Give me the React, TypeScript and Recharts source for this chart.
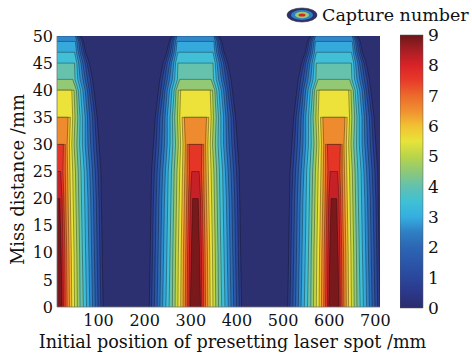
import React from 'react';
import { ComposedChart, Area, XAxis, YAxis, CartesianGrid, BarChart, Bar } from 'recharts';

// miss distance rows (mm) where contour half-widths were read
const HEIGHTS = [0, 10, 20, 25, 30, 35, 40, 42, 45, 47, 49, 50];
// centre of each capture peak along initial position (mm)
const PEAK_CENTERS = [10, 310, 610];
// contour levels of capture number
const LEVELS = [0.5, 1, 1.5, 2, 2.5, 3, 3.5, 4, 4.5, 5, 5.5, 6, 6.5, 7, 7.5, 8, 8.5];

// half-width (mm) of the region above each level, one list per height
const HW_0 = [100, 95, 89, 83, 77, 71, 64, 57, 50, 44, 38, 32, 27, 22, 18, 14, 11];
const HW_10 = [98, 93, 87, 81, 75, 69, 62, 55, 49, 43, 37, 31, 26, 21, 17, 13, 9];
const HW_20 = [96, 91, 85, 79, 73, 67, 60, 53, 47, 41, 35, 29, 24, 19, 15, 11, 6];
const HW_25 = [95, 89, 83, 77, 71, 65, 59, 52, 46, 40, 34, 28, 23, 18, 13, 8];
const HW_30 = [91, 85, 79, 73, 67, 61, 55, 49, 43, 37, 32, 27, 22, 18, 14];
const HW_35 = [87, 82, 77, 71, 66, 61, 55, 50, 45, 39, 34, 29, 24];
const HW_40 = [80, 75, 70, 66, 61, 56, 51, 46, 42, 37, 32];
const HW_42 = [77, 72, 66, 61, 56, 50, 45, 39, 34];
const HW_45 = [70, 65, 61, 56, 52, 47, 43, 38];
const HW_47 = [62, 58, 54, 50, 46, 42, 38];
const HW_49 = [57, 54, 50, 47, 43, 40];
const HW_50 = [52, 49, 46, 43, 40];

const HALF_WIDTHS = [HW_0, HW_10, HW_20, HW_25, HW_30, HW_35, HW_40, HW_42, HW_45, HW_47, HW_49, HW_50];

const X_TICKS = [100, 200, 300, 400, 500, 600, 700];
const Y_TICKS = [0, 5, 10, 15, 20, 25, 30, 35, 40, 45, 50];
const CBAR_TICKS = [0, 1, 2, 3, 4, 5, 6, 7, 8, 9];

const BACKGROUND = '#2c3070';
const BAND_COLORS = [
  '#2c3b8a', '#2b4a9e', '#2b5aab', '#2d6cb8', '#3088cb', '#36a9dc', '#40bfd6', '#66c2ad', '#93c975',
  '#c4d846', '#ece23a', '#f2b635', '#ef8b2f', '#eb6229', '#e53527', '#c62127', '#7a191b',
];
const CBAR_STOPS = [
  { v: 0, c: '#2b2d6b' }, { v: 0.5, c: '#2c378a' }, { v: 1, c: '#2a479c' }, { v: 1.5, c: '#2b56a9' },
  { v: 2, c: '#2c66b4' }, { v: 2.5, c: '#2f7fc4' }, { v: 3, c: '#35aee0' }, { v: 3.5, c: '#3fc0d6' },
  { v: 4, c: '#62c1b0' }, { v: 4.5, c: '#8ec878' }, { v: 5, c: '#b9d54a' }, { v: 5.5, c: '#e8e33a' },
  { v: 6, c: '#f2c133' }, { v: 6.5, c: '#f09030' }, { v: 7, c: '#ec6a2b' }, { v: 7.5, c: '#e83b2a' },
  { v: 8, c: '#d92328' }, { v: 8.5, c: '#a81e24' }, { v: 9, c: '#6c1719' },
];

const FONT = '"DejaVu Serif", serif';

// each level of each peak is the area under its contour: left flank up, right flank down
const regions = LEVELS.flatMap((level, li) =>
  PEAK_CENTERS.map((c, pi) => {
    const side = HEIGHTS.map((y, hi) => ({ y, hw: HALF_WIDTHS[hi][li] })).filter((d) => d.hw != null);
    const left = side.map((d) => ({ x: c - d.hw, y: d.y }));
    const right = side.slice().reverse().map((d) => ({ x: c + d.hw, y: d.y }));
    return { key: `l${li}-p${pi}`, color: BAND_COLORS[li], rows: [...left, ...right] };
  })
);

const cbarData = [{ name: 'capture', range: [0, 9] }];

const LegendIcon = () => (
  <svg width={34} height={18}>
    <ellipse cx={17} cy={9} rx={15} ry={7} fill="#2c3070" stroke="#333" strokeWidth={0.6} />
    <ellipse cx={17} cy={9} rx={11} ry={5} fill="#2f7fc4" />
    <ellipse cx={17} cy={9} rx={7} ry={3.2} fill="#9ccd6a" />
    <ellipse cx={17} cy={9} rx={3.5} ry={1.6} fill="#d92328" />
  </svg>
);

export default function App() {
  return (
    <div style={{ position: 'absolute', left: 0, top: 0, width: 472, height: 355, background: '#fff', fontFamily: FONT }}>
      <ComposedChart width={472} height={355} margin={{ top: 36, right: 92, bottom: 0, left: 10 }}>
        <CartesianGrid fill={BACKGROUND} horizontal={false} vertical={false} />
        <XAxis
          type="number"
          dataKey="x"
          domain={[10, 710]}
          allowDataOverflow
          ticks={X_TICKS}
          height={48}
          tickLine={false}
          tickSize={4}
          tickMargin={4}
          axisLine={{ stroke: '#777', strokeWidth: 0.8 }}
          tick={{ fontSize: 16, fill: '#111', fontFamily: FONT }}
          label={{
            value: 'Initial position of presetting laser spot /mm',
            position: 'insideBottom',
            offset: 7,
            dx: 14,
            style: { fontSize: 17.6, fill: '#111', fontFamily: FONT },
          }}
        />
        <YAxis
          type="number"
          domain={[0, 50]}
          allowDataOverflow
          ticks={Y_TICKS}
          width={47}
          tickLine={false}
          tickSize={2}
          tickMargin={2}
          axisLine={{ stroke: '#777', strokeWidth: 0.8 }}
          tick={{ fontSize: 16, fill: '#111', fontFamily: FONT }}
          label={{
            value: 'Miss distance /mm',
            angle: -90,
            position: 'insideLeft',
            offset: 8,
            dy: 8,
            style: { textAnchor: 'middle', fontSize: 18, fill: '#111', fontFamily: FONT },
          }}
        />
        {regions.map((r) => (
          <Area
            key={r.key}
            data={r.rows}
            dataKey="y"
            type="linear"
            baseValue={0}
            fill={r.color}
            fillOpacity={1}
            stroke="#0a0a0a"
            strokeWidth={0.5}
            strokeOpacity={0.7}
            dot={false}
            activeDot={false}
            isAnimationActive={false}
          />
        ))}
      </ComposedChart>

      <div style={{ position: 'absolute', left: 400, top: 0 }}>
        <BarChart
          width={60}
          height={355}
          data={cbarData}
          margin={{ top: 35, right: 0, bottom: 47, left: 0 }}
          barCategoryGap={0}
        >
          <defs>
            <linearGradient id="cbarGrad" x1="0" y1="1" x2="0" y2="0">
              {CBAR_STOPS.map((s) => (
                <stop key={s.v} offset={`${(s.v / 9) * 100}%`} stopColor={s.c} />
              ))}
            </linearGradient>
          </defs>
          <XAxis dataKey="name" hide />
          <YAxis
            orientation="right"
            type="number"
            domain={[0, 9]}
            ticks={CBAR_TICKS}
            width={37}
            axisLine={false}
            tickLine={false}
            tickSize={3}
            tickMargin={2}
            tick={{ fontSize: 17, fill: '#111', fontFamily: FONT, textAnchor: 'start' }}
          />
          <Bar dataKey="range" fill="url(#cbarGrad)" stroke="#555" strokeWidth={0.5} isAnimationActive={false} />
        </BarChart>
      </div>

      <div style={{ position: 'absolute', left: 285, top: 5, display: 'flex', alignItems: 'center', gap: 3 }}>
        <LegendIcon />
        <span style={{ fontSize: 17.5, color: '#111', fontFamily: FONT, whiteSpace: 'nowrap' }}>Capture number</span>
      </div>
    </div>
  );
}
